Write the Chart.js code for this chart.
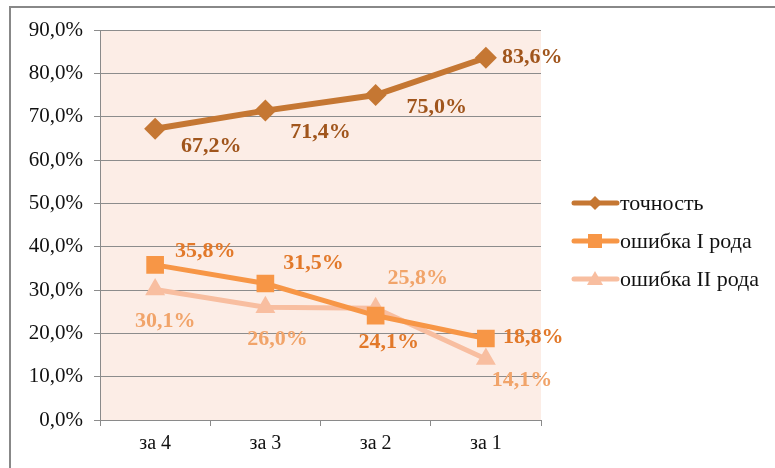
<!DOCTYPE html>
<html>
<head>
<meta charset="utf-8">
<script src="https://cdn.jsdelivr.net/npm/chart.js@4"></script>
<style>
body{margin:0;background:#fff}
</style>
</head>
<body>
<canvas id="chart" width="775" height="468"></canvas>
<script>
const periods = ["за 4", "за 3", "за 2", "за 1"]
const seriesNames = ["точность", "ошибка I рода", "ошибка II рода"]
const accuracy = [67.2, 71.4, 75.0, 83.6]
const errorI = [35.8, 31.5, 24.1, 18.8]
const errorII = [30.1, 26.0, 25.8, 14.1]
const yTicks = [0, 10, 20, 30, 40, 50, 60, 70, 80, 90]

const lineColors = ['#C57733', '#F79646', '#F8BEA0']
const labelColors = ['#A0551C', '#E2792A', '#F1A46A']
const pointStyles = ['rectRot', 'rect', 'triangle']

// where each value label sits relative to its point (dx, dy, align)
const labelPos = [
  [[56, 18, 'center'], [55, 22, 'center'], [61, 12, 'center'], [16, 0, 'left']],
  [[50, -14, 'center'], [48, -20, 'center'], [13, 27, 'center'], [17, -1, 'left']],
  [[10, 32, 'center'], [12, 32, 'center'], [42, -30, 'center'], [36, 21, 'center']]
]

const fmt = v => v.toFixed(1).replace('.', ',') + '%'
const serif = '"Liberation Serif", "Times New Roman", serif'
Chart.defaults.font.family = serif

const bgPlugin = {
  id: 'bg',
  beforeDraw(chart) {
    const c = chart.ctx, a = chart.chartArea
    c.save()
    c.fillStyle = '#FCEDE6'
    c.fillRect(a.left, a.top, a.right - a.left, a.bottom - a.top)
    c.strokeStyle = '#888'
    c.lineWidth = 2
    c.beginPath()
    c.moveTo(10, 468)
    c.lineTo(10, 7)
    c.lineTo(775, 7)
    c.stroke()
    c.restore()
  }
}

const labelPlugin = {
  id: 'vlabels',
  afterDatasetsDraw(chart) {
    const c = chart.ctx
    c.save()
    c.font = 'bold 22px ' + serif
    c.textBaseline = 'middle'
    chart.data.datasets.forEach((ds, i) => {
      chart.getDatasetMeta(i).data.forEach((pt, j) => {
        const p = labelPos[i][j]
        c.fillStyle = labelColors[i]
        c.textAlign = p[2]
        c.fillText(fmt(ds.data[j]), pt.x + p[0], pt.y + p[1])
      })
    })
    c.restore()
  }
}

function marker(c, style, x, y, r) {
  c.beginPath()
  if (style === 'rectRot') {
    c.moveTo(x, y - r); c.lineTo(x + r, y); c.lineTo(x, y + r); c.lineTo(x - r, y)
  } else if (style === 'rect') {
    c.rect(x - r, y - r, 2 * r, 2 * r)
  } else {
    c.moveTo(x, y - r); c.lineTo(x + r, y + r * 0.75); c.lineTo(x - r, y + r * 0.75)
  }
  c.closePath()
  c.fill()
}

const legendPlugin = {
  id: 'sideLegend',
  afterDraw(chart) {
    const c = chart.ctx
    const sizes = [7, 7, 8]
    c.save()
    seriesNames.forEach((name, i) => {
      const y = 203 + i * 38
      c.strokeStyle = lineColors[i]
      c.fillStyle = lineColors[i]
      c.lineWidth = 5
      c.lineCap = 'round'
      c.beginPath()
      c.moveTo(574, y)
      c.lineTo(617, y)
      c.stroke()
      marker(c, pointStyles[i], 595, y, sizes[i])
      c.fillStyle = '#111'
      c.font = '22px ' + serif
      c.textAlign = 'left'
      c.textBaseline = 'middle'
      c.fillText(name, 620, y + 1)
    })
    c.restore()
  }
}

const seriesData = [accuracy, errorI, errorII]
const radii = [11, 12.5, 11.5]
const widths = [6, 5, 5]

new Chart(document.getElementById('chart'), {
  type: 'line',
  data: {
    labels: periods,
    datasets: seriesData.map((d, i) => ({
      label: seriesNames[i],
      data: d,
      borderColor: lineColors[i],
      backgroundColor: lineColors[i],
      borderWidth: widths[i],
      pointStyle: pointStyles[i],
      pointRadius: radii[i],
      pointBorderWidth: 0,
      tension: 0,
      fill: false
    }))
  },
  options: {
    responsive: false,
    animation: false,
    layout: { padding: { left: 10, top: 30, right: 234, bottom: 0 } },
    plugins: { legend: { display: false }, tooltip: { enabled: false } },
    scales: {
      x: {
        offset: true,
        grid: { offset: true, drawOnChartArea: false, drawTicks: true, tickLength: 6, color: '#8a8a8a' },
        border: { color: '#8a8a8a' },
        ticks: { color: '#111', font: { size: 20 }, padding: 6 },
        afterFit(s) { s.height = 48 }
      },
      y: {
        min: yTicks[0],
        max: yTicks[yTicks.length - 1],
        afterBuildTicks(s) { s.ticks = yTicks.map(v => ({ value: v })) },
        grid: { color: '#8c8c8c', tickLength: 6 },
        border: { color: '#8a8a8a' },
        ticks: { color: '#111', font: { size: 21 }, padding: 11, callback: v => fmt(v) },
        afterFit(s) { s.width = 90 }
      }
    }
  },
  plugins: [bgPlugin, labelPlugin, legendPlugin]
})
</script>
</body>
</html>
